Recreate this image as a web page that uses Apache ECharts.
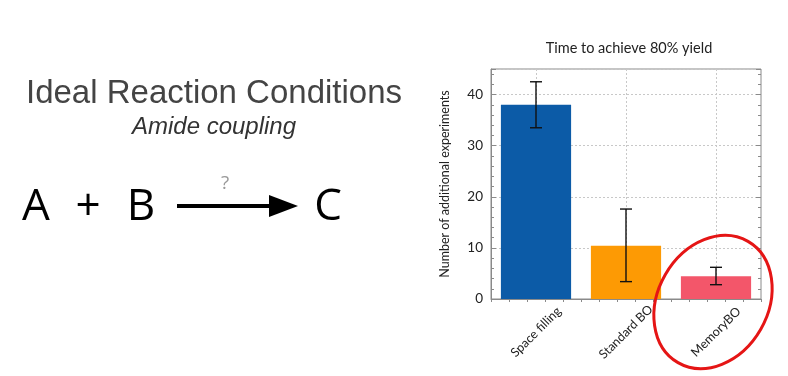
<!DOCTYPE html>
<html><head><meta charset="utf-8">
<script src="https://cdn.jsdelivr.net/npm/echarts@6/dist/echarts.min.js"></script>
<style>html,body{margin:0;padding:0;background:#fff}#c{width:788px;height:376px}</style>
</head><body><div id="c"></div>
<script>
const categories = ['Space filling', 'Standard BO', 'MemoryBO'];
const values = [38, 10.4, 4.45];
const errLow = [33.5, 3.4, 2.8];
const errHigh = [42.5, 17.6, 6.2];
const barColors = ['#0c5ba7', '#fd9a04', '#f3566a'];

const chart = echarts.init(document.getElementById('c'));
const grid = {left: 491, right: 27, top: 69, bottom: 77, show: true, borderColor: '#8a8a8a', borderWidth: 1};
chart.setOption({
  animation: false,
  title: {text: 'Time to achieve 80% yield', left: 624, top: 36, textAlign: 'center',
    textStyle: {fontFamily: 'Lato', fontWeight: 'normal', fontSize: 14.5, color: '#222'}},
  grid: grid,
  xAxis: [{
    type: 'category', data: categories,
    axisLine: {lineStyle: {color: '#8a8a8a'}},
    axisTick: {show: false},
    splitLine: {show: false},
    axisLabel: {rotate: 45, align: 'center', verticalAlign: 'middle', margin: 33, interval: 0,
      fontFamily: 'Lato', fontSize: 12.5, color: '#222'}
  }, {
    type: 'value', position: 'top', min: 0, max: 15, interval: 1,
    axisLine: {show: false}, axisLabel: {show: false}, splitLine: {show: false},
    axisTick: {inside: true, length: 3, lineStyle: {color: '#8a8a8a'}}
  }],
  yAxis: [{
    type: 'value', min: 0, max: 45, interval: 10,
    name: 'Number of additional experiments', nameLocation: 'middle', nameGap: 40, nameRotate: 90,
    nameTextStyle: {fontFamily: 'Lato', fontSize: 12.5, color: '#222'},
    axisLine: {show: true, lineStyle: {color: '#8a8a8a'}},
    axisTick: {show: true, inside: true, length: 5, lineStyle: {color: '#8a8a8a'}},
    minorTick: {show: true, splitNumber: 5, length: 3, lineStyle: {color: '#8a8a8a'}},
    splitLine: {show: true, lineStyle: {color: '#c8c8c8', type: [2, 2]}},
    axisLabel: {fontFamily: 'Lato', fontSize: 13.5, color: '#222', margin: 8, showMaxLabel: false}
  }, {
    type: 'value', position: 'right', min: 0, max: 45, interval: 10,
    axisLine: {show: false}, axisLabel: {show: false}, splitLine: {show: false},
    axisTick: {show: true, inside: true, length: 5, lineStyle: {color: '#8a8a8a'}},
    minorTick: {show: true, splitNumber: 5, length: 3, lineStyle: {color: '#8a8a8a'}}
  }],
  series: [{
    type: 'line', data: [], z: 1, silent: true,
    markLine: {z: 1, symbol: 'none', silent: true, label: {show: false},
      lineStyle: {color: '#c8c8c8', type: [2, 2], width: 1},
      data: categories.map(c => ({xAxis: c}))}
  }, {
    type: 'bar', data: values.map((v, i) => ({value: v, itemStyle: {color: barColors[i]}})),
    barWidth: '78%', z: 2
  }, {
    type: 'custom', z: 5,
    data: categories.map((c, i) => [i, errLow[i], errHigh[i]]),
    renderItem: function (params, api) {
      const lo = api.coord([api.value(0), api.value(1)]);
      const hi = api.coord([api.value(0), api.value(2)]);
      const w = 6;
      const st = {stroke: '#111', lineWidth: 1.4};
      return {type: 'group', children: [
        {type: 'line', shape: {x1: lo[0], y1: lo[1], x2: hi[0], y2: hi[1]}, style: st},
        {type: 'line', shape: {x1: lo[0] - w, y1: lo[1], x2: lo[0] + w, y2: lo[1]}, style: st},
        {type: 'line', shape: {x1: hi[0] - w, y1: hi[1], x2: hi[0] + w, y2: hi[1]}, style: st}
      ]};
    }
  }],
  graphic: [
    {type: 'text', position: [214, 77], style: {text: 'Ideal Reaction Conditions', font: '33px "Liberation Sans"', fill: '#444', textAlign: 'center'}},
    {type: 'text', position: [214, 115], style: {text: 'Amide coupling', font: 'italic 24px "Liberation Sans"', fill: '#333', textAlign: 'center'}},
    {type: 'text', position: [36, 185], style: {text: 'A', font: '44px "Open Sans"', fill: '#000', textAlign: 'center'}},
    {type: 'text', position: [88, 185], style: {text: '+', font: '44px "Open Sans"', fill: '#000', textAlign: 'center'}},
    {type: 'text', position: [141, 185], style: {text: 'B', font: '44px "Open Sans"', fill: '#000', textAlign: 'center'}},
    {type: 'text', position: [328, 185], style: {text: 'C', font: '44px "Open Sans"', fill: '#000', textAlign: 'center'}},
    {type: 'text', position: [225, 174], style: {text: '?', font: '19px "Open Sans"', fill: '#999', textAlign: 'center'}},
    {type: 'line', shape: {x1: 177, y1: 206, x2: 272, y2: 206}, style: {stroke: '#000', lineWidth: 4}},
    {type: 'polygon', shape: {points: [[269, 195], [298, 206], [269, 217]]}, style: {fill: '#000'}},
    {type: 'ellipse', position: [713, 302], rotation: Math.PI / 3, shape: {cx: 0, cy: 0, rx: 70, ry: 55},
      style: {fill: 'none', stroke: '#e51515', lineWidth: 3}, z: 100}
  ]
});
</script></body></html>
